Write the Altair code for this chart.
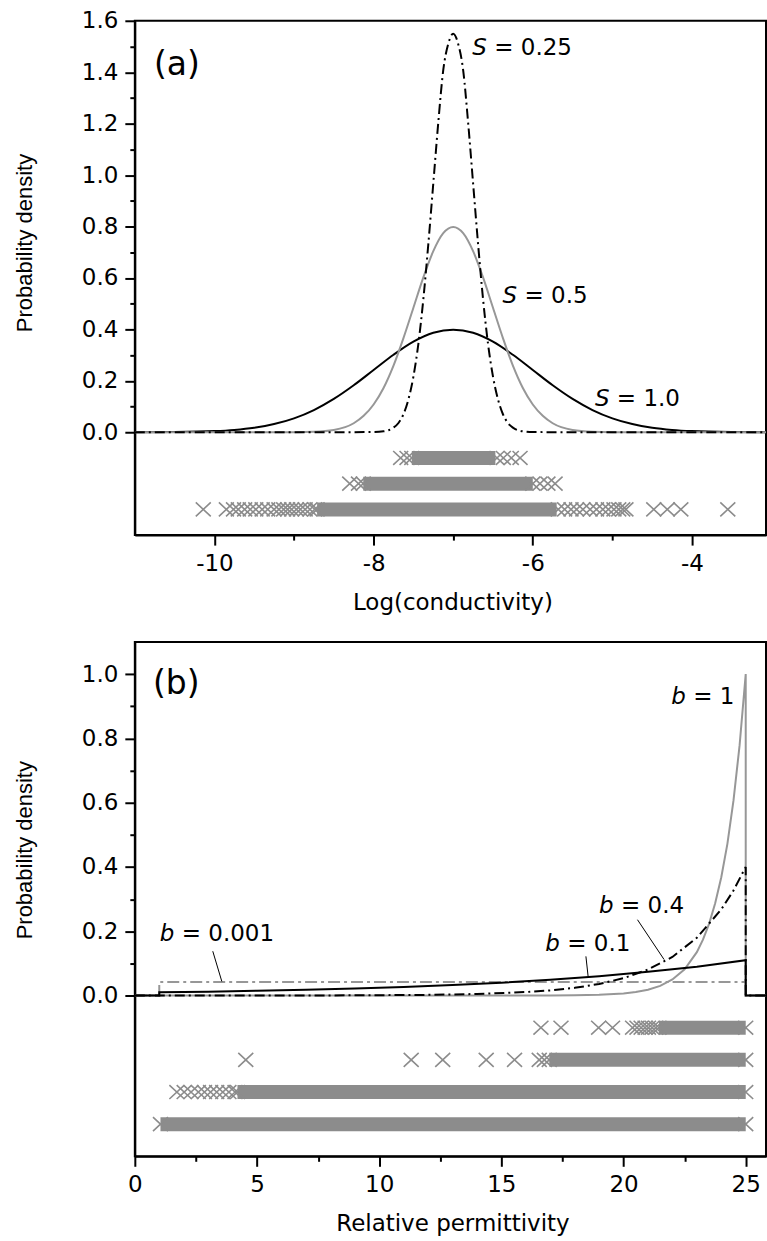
import altair as alt
import pandas as pd

# ---------------- Panel (a): Log(conductivity) ----------------
a_s1_x = [-11, -10.5, -10, -9.75, -9.5, -9.25, -9, -8.75, -8.5, -8.25, -8, -7.75, -7.5, -7.25, -7,
          -6.75, -6.5, -6.25, -6, -5.75, -5.5, -5.25, -5, -4.75, -4.5, -4.25, -4, -3.5, -3]
a_s1_y = [0.0001, 0.0009, 0.0044, 0.0091, 0.0175, 0.0317, 0.054, 0.0863, 0.1295, 0.1826, 0.242, 0.3011,
          0.3521, 0.3867, 0.3989, 0.3867, 0.3521, 0.3011, 0.242, 0.1826, 0.1295, 0.0863, 0.054, 0.0317,
          0.0175, 0.0091, 0.0044, 0.0009, 0.0001]

a_s05_x = [-11, -9, -8.75, -8.5, -8.25, -8.125, -8, -7.875, -7.75, -7.625, -7.5, -7.375, -7.25, -7.125, -7,
           -6.875, -6.75, -6.625, -6.5, -6.375, -6.25, -6.125, -6, -5.875, -5.75, -5.5, -5.25, -5, -3]
a_s05_y = [0, 0.0003, 0.0018, 0.0089, 0.035, 0.064, 0.108, 0.172, 0.259, 0.366, 0.484, 0.602, 0.704, 0.774,
           0.798, 0.774, 0.704, 0.602, 0.484, 0.366, 0.259, 0.172, 0.108, 0.064, 0.035, 0.0089, 0.0018,
           0.0003, 0]

a_s025_x = [-11, -8, -7.875, -7.75, -7.6875, -7.625, -7.5625, -7.5, -7.4375, -7.375, -7.3125, -7.25, -7.1875,
            -7.125, -7.0625, -7, -6.9375, -6.875, -6.8125, -6.75, -6.6875, -6.625, -6.5625, -6.5, -6.4375,
            -6.375, -6.3125, -6.25, -6.125, -6, -3]
a_s025_y = [0, 0.0005, 0.0035, 0.018, 0.036, 0.070, 0.128, 0.216, 0.344, 0.518, 0.732, 0.968, 1.204, 1.408,
            1.51, 1.55, 1.51, 1.408, 1.204, 0.968, 0.732, 0.518, 0.344, 0.216, 0.128, 0.070, 0.036, 0.018,
            0.0035, 0.0005, 0]

# sample rows (crosses) and dense bands
a_band_start = [-7.52, -8.13, -8.71]
a_band_end = [-6.47, -6.00, -5.70]
a_band_y = [-0.1, -0.2, -0.3]
a_x_s025 = [-7.66, -7.58, -7.52, -6.45, -6.37, -6.27, -6.16]
a_x_s05 = [-8.30, -8.19, -8.13, -6.00, -5.91, -5.81, -5.72]
a_x_s1 = [-10.14, -9.85, -9.76, -9.70, -9.62, -9.55, -9.48, -9.40, -9.33, -9.25, -9.19, -9.13, -9.08, -9.03,
          -8.97, -8.92, -8.86, -8.80, -8.74, -8.71, -5.68, -5.60, -5.52, -5.45, -5.37, -5.28, -5.20, -5.12,
          -5.05, -4.98, -4.92, -4.87, -4.83, -4.48, -4.31, -4.14, -3.55]

a_ann_var = ["S", "S", "S"]
a_ann_rest = ["= 0.25", "= 0.5", "= 1.0"]
a_ann_x = [-6.76, -6.38, -5.22]
a_ann_y = [1.495, 0.53, 0.128]

# ---------------- Panel (b): Relative permittivity ----------------
b_1_x = [0, 1, 10, 14, 16, 17, 18, 19, 20, 20.5, 21, 21.5, 22, 22.5, 23, 23.25, 23.5, 23.75, 24, 24.25, 24.5,
         24.75, 25, 25, 26]
b_1_y = [0, 0, 0, 0, 0.0001, 0.0003, 0.0009, 0.0025, 0.0067, 0.011, 0.018, 0.030, 0.050, 0.082, 0.135, 0.174,
         0.223, 0.287, 0.368, 0.472, 0.607, 0.779, 1.0, 0, 0]

b_04_x = [0, 1, 1, 5, 9, 12, 14, 16, 17, 18, 19, 20, 21, 22, 23, 24, 24.5, 25, 25, 26]
b_04_y = [0, 0, 0.00003, 0.0001, 0.0007, 0.0022, 0.0049, 0.011, 0.016, 0.024, 0.036, 0.054, 0.081, 0.120,
          0.180, 0.268, 0.327, 0.400, 0, 0]

b_01_x = [0, 1, 1, 3, 5, 7, 9, 11, 13, 15, 17, 19, 21, 23, 25, 25, 26]
b_01_y = [0, 0, 0.010, 0.012, 0.015, 0.018, 0.022, 0.027, 0.033, 0.040, 0.049, 0.060, 0.074, 0.090, 0.110, 0, 0]

b_0001_x = [0, 1, 1, 25, 25, 26]
b_0001_y = [0, 0, 0.042, 0.042, 0, 0]

b_band_start = [21.45, 16.96, 4.20, 1.05]
b_band_end = [25.0, 25.0, 25.0, 25.0]
b_band_y = [-0.1, -0.2, -0.3, -0.4]
b_x_1 = [16.62, 17.44, 18.98, 19.55, 20.37, 20.55, 20.72, 20.88, 21.02, 21.17, 21.32, 21.45, 25.0]
b_x_04 = [4.54, 11.31, 12.60, 14.38, 15.54, 16.55, 16.76, 16.96, 25.0]
b_x_01 = [1.72, 2.02, 2.30, 2.60, 2.85, 3.10, 3.35, 3.60, 3.85, 4.10, 4.20, 25.0]
b_x_0001 = [1.05, 25.0]

b_ann_var = ["b", "b", "b", "b"]
b_ann_rest = ["= 1", "= 0.4", "= 0.1", "= 0.001"]
b_ann_x = [21.95, 19.0, 16.8, 1.02]
b_ann_y = [0.93, 0.278, 0.16, 0.19]

b_lead_x = [3.19, 18.46, 20.57]
b_lead_y = [0.138, 0.122, 0.236]
b_lead_x2 = [3.56, 18.55, 21.66]
b_lead_y2 = [0.044, 0.060, 0.112]

panel_labels = ["(a)", "(b)"]
panel_label_x = [-10.76, 0.74]
panel_label_y = [1.427, 0.968]

# ---------------- styling ----------------
FONT = "DejaVu Sans"
TITLE_FONT_V = "Liberation Sans"
GRAY_LINE = "#979797"
GRAY_X = "#8c8c8c"
X_PATH = "M-1,-0.93L1,0.93M-1,0.93L1,-0.93"
DASHDOT = [10, 4, 2, 4]
W, H = 632, 515


def line_df(xs, ys):
    return pd.DataFrame({"x": xs, "y": ys, "o": list(range(len(xs)))})


def make_panel(xdom, ydom, xaxis, yaxis, curves, band, crosses, ann, letter, leaders=None):
    def X():
        return alt.X("x:Q", scale=alt.Scale(domain=xdom, nice=False, zero=False), axis=xaxis)

    def Y():
        return alt.Y("y:Q", scale=alt.Scale(domain=ydom, nice=False, zero=False), axis=yaxis)

    layers = []
    for (xs, ys, color, dash) in curves:
        kw = dict(color=color, strokeWidth=2, clip=True, interpolate="monotone" if letter == "(a)" else "linear")
        if dash:
            kw["strokeDash"] = dash
        ch = alt.Chart(line_df(xs, ys)).mark_line(**kw).encode(x=X(), y=Y(), order=alt.Order("o:Q"))
        layers.append(ch)

    bs, be, by = band
    layers.append(alt.Chart(pd.DataFrame({"x": bs, "x2": be, "y": by})).mark_rule(
        color=GRAY_X, strokeWidth=14, strokeCap="butt").encode(x=X(), x2="x2:Q", y=Y()))

    cx, cy = [], []
    for xs, yv in crosses:
        cx += xs
        cy += [yv] * len(xs)
    layers.append(alt.Chart(pd.DataFrame({"x": cx, "y": cy})).mark_point(
        shape=X_PATH, size=225, filled=False, color=GRAY_X, strokeWidth=1.6, opacity=1, clip=True
    ).encode(x=X(), y=Y()))

    if leaders is not None:
        lx, ly, lx2, ly2 = leaders
        layers.append(alt.Chart(pd.DataFrame({"x": lx, "y": ly, "x2": lx2, "y2": ly2})).mark_rule(
            color="black", strokeWidth=1).encode(x=X(), y=Y(), x2="x2:Q", y2="y2:Q"))

    var, rest, ax, ay = ann
    adf = pd.DataFrame({"x": ax, "y": ay, "v": var, "r": rest})
    layers.append(alt.Chart(adf).mark_text(font=FONT, fontSize=23, fontStyle="italic", align="left",
                                           baseline="middle", color="black").encode(x=X(), y=Y(), text="v:N"))
    layers.append(alt.Chart(adf).mark_text(font=FONT, fontSize=23, align="left", baseline="middle",
                                           dx=22, color="black").encode(x=X(), y=Y(), text="r:N"))

    i = panel_labels.index(letter)
    ldf = pd.DataFrame({"x": [panel_label_x[i]], "y": [panel_label_y[i]], "t": [letter]})
    layers.append(alt.Chart(ldf).mark_text(font=FONT, fontSize=33, align="left", baseline="middle",
                                           color="black").encode(x=X(), y=Y(), text="t:N"))
    return alt.layer(*layers).properties(width=W, height=H)


def tick_cond(test, major=10, minor=5):
    return {"condition": {"test": test, "value": major}, "value": minor}


# axes
ax_a_x = alt.Axis(
    values=[-10, -9, -8, -7, -6, -5, -4],
    labelExpr="abs(round(datum.value)) % 2 == 0 ? '' + datum.value : ''",
    tickSize=tick_cond("abs(round(datum.value)) % 2 == 0"),
    title="Log(conductivity)", titleFont=FONT, titleFontSize=23, titleX=318, titleY=56,
    titleBaseline="top", titleAlign="center")
ax_a_y = alt.Axis(
    values=[0, 0.1, 0.2, 0.3, 0.4, 0.5, 0.6, 0.7, 0.8, 0.9, 1.0, 1.1, 1.2, 1.3, 1.4, 1.5, 1.6],
    labelExpr="abs(round(datum.value * 10)) % 2 == 0 ? format(datum.value, '.1f') : ''",
    tickSize=tick_cond("abs(round(datum.value * 10)) % 2 == 0"),
    title="Probability density", titleX=-110, titleY=222, titleBaseline="middle", titleAlign="center")
ax_b_x = alt.Axis(
    values=[0, 2.5, 5, 7.5, 10, 12.5, 15, 17.5, 20, 22.5, 25],
    labelExpr="round(datum.value * 2) % 10 == 0 ? '' + datum.value : ''",
    tickSize=tick_cond("round(datum.value * 2) % 10 == 0"),
    title="Relative permittivity", titleFont=FONT, titleFontSize=23, titleX=318, titleY=56,
    titleBaseline="top", titleAlign="center")
ax_b_y = alt.Axis(
    values=[0, 0.1, 0.2, 0.3, 0.4, 0.5, 0.6, 0.7, 0.8, 0.9, 1.0],
    labelExpr="abs(round(datum.value * 10)) % 2 == 0 ? format(datum.value, '.1f') : ''",
    tickSize=tick_cond("abs(round(datum.value * 10)) % 2 == 0"),
    title="Probability density", titleX=-110, titleY=208, titleBaseline="middle", titleAlign="center")

panel_a = make_panel(
    [-11, -3.07], [-0.4, 1.6], ax_a_x, ax_a_y,
    curves=[(a_s1_x, a_s1_y, "black", None),
            (a_s05_x, a_s05_y, GRAY_LINE, None),
            (a_s025_x, a_s025_y, "black", DASHDOT)],
    band=(a_band_start, a_band_end, a_band_y),
    crosses=[(a_x_s025, -0.1), (a_x_s05, -0.2), (a_x_s1, -0.3)],
    ann=(a_ann_var, a_ann_rest, a_ann_x, a_ann_y),
    letter="(a)")

panel_b = make_panel(
    [0, 25.83], [-0.5, 1.1], ax_b_x, ax_b_y,
    curves=[(b_0001_x, b_0001_y, GRAY_LINE, [12, 4, 3, 4]),
            (b_1_x, b_1_y, GRAY_LINE, None),
            (b_04_x, b_04_y, "black", DASHDOT),
            (b_01_x, b_01_y, "black", None)],
    band=(b_band_start, b_band_end, b_band_y),
    crosses=[(b_x_1, -0.1), (b_x_04, -0.2), (b_x_01, -0.3), (b_x_0001, -0.4)],
    ann=(b_ann_var, b_ann_rest, b_ann_x, b_ann_y),
    letter="(b)",
    leaders=(b_lead_x, b_lead_y, b_lead_x2, b_lead_y2))

chart = alt.vconcat(panel_a, panel_b, spacing=26).properties(
    padding={"left": 13, "top": 8, "right": 0, "bottom": 0},
    background="white",
).configure_view(stroke="black", strokeWidth=2).configure_axis(
    grid=False, labelFont=FONT, labelFontSize=23, labelColor="black", labelPadding=7,
    titleFont=TITLE_FONT_V, titleFontSize=22, titleFontWeight="normal", titleColor="black",
    domainColor="black", domainWidth=2, tickColor="black", tickWidth=2, labelFlush=False,
    labelOverlap=False, labelBound=False)

chart.save("out.html", embed_options={"renderer": "svg", "actions": False})
